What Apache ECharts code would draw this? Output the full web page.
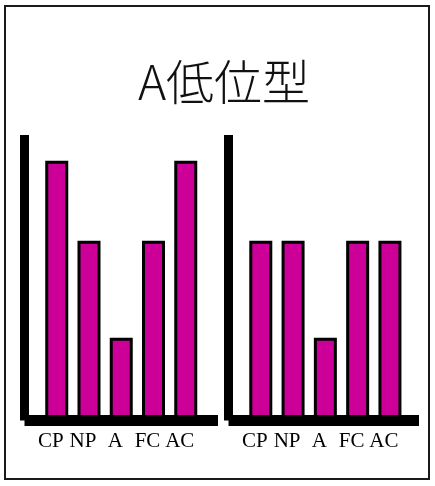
<!DOCTYPE html>
<html>
<head>
<meta charset="utf-8">
<title>A低位型</title>
<script src="https://cdn.jsdelivr.net/npm/echarts@6/dist/echarts.min.js"></script>
<style>
  html, body { margin: 0; padding: 0; background: #fff; }
  #chart { width: 435px; height: 486px; }
</style>
</head>
<body>
<div id="chart"></div>
<script>
// Egogram scale names and the two profiles drawn side by side
const categories = ['CP', 'NP', 'A', 'FC', 'AC'];
const leftValues = [91, 63, 29, 63, 91];
const rightValues = [63, 63, 29, 63, 63];
const titleText = 'A低位型';

const BAR_COLOR = '#CC0099';

function xAxisFor(gridIndex, max) {
  return {
    type: 'value',
    gridIndex: gridIndex,
    min: 0,
    max: max,
    interval: 1,
    z: 10,
    axisLine: { show: true, lineStyle: { color: '#000', width: 11, cap: 'butt' } },
    axisTick: { show: false },
    splitLine: { show: false },
    axisLabel: {
      margin: 10,
      color: '#000',
      fontFamily: 'Liberation Serif',
      fontSize: 21,
      padding: [0, 12, 0, 0],
      showMinLabel: true,
      showMaxLabel: true,
      formatter: function (v) { return categories[v - 1] || ''; }
    }
  };
}

function yAxisFor(gridIndex) {
  return {
    type: 'value',
    gridIndex: gridIndex,
    min: 0,
    max: 100,
    z: 10,
    axisLine: { show: true, lineStyle: { color: '#000', width: 9, cap: 'butt' } },
    axisTick: { show: false },
    axisLabel: { show: false },
    splitLine: { show: false }
  };
}

function barSeries(index, values) {
  return {
    type: 'bar',
    xAxisIndex: index,
    yAxisIndex: index,
    barWidth: 23,
    itemStyle: { color: BAR_COLOR, borderColor: '#000', borderWidth: 3 },
    data: values.map(function (v, i) { return [i + 1, v]; })
  };
}

const chart = echarts.init(document.getElementById('chart'), null, { renderer: 'canvas' });
chart.setOption({
  animation: false,
  backgroundColor: '#fff',
  graphic: [
    {
      type: 'rect',
      shape: { x: 5, y: 6, width: 424, height: 473 },
      style: { fill: 'none', stroke: '#1a1a1a', lineWidth: 2 }
    },
    {
      type: 'text',
      x: 224,
      y: 82,
      style: {
        text: titleText,
        fill: '#111',
        font: '300 48px "Noto Sans CJK JP"',
        textAlign: 'center',
        textVerticalAlign: 'middle'
      }
    }
  ],
  grid: [
    { left: 24.5, top: 135, width: 193.5, height: 285.5 },
    { left: 228.5, top: 135, width: 190.5, height: 285.5 }
  ],
  xAxis: [xAxisFor(0, 6), xAxisFor(1, 5.9)],
  yAxis: [yAxisFor(0), yAxisFor(1)],
  series: [barSeries(0, leftValues), barSeries(1, rightValues)]
});
</script>
</body>
</html>
